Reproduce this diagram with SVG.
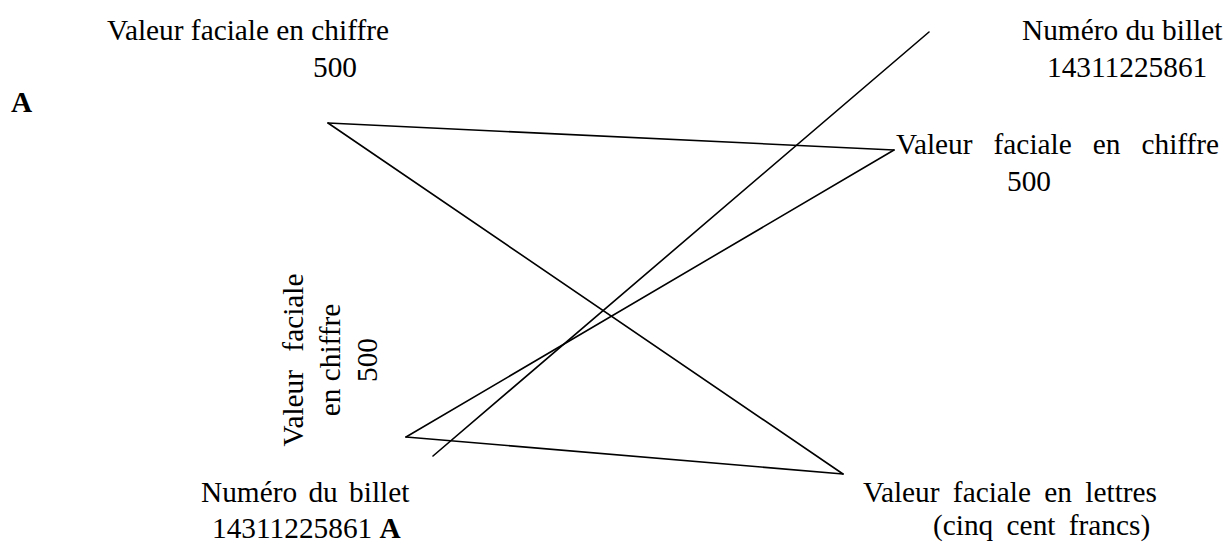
<svg xmlns="http://www.w3.org/2000/svg" width="1226" height="542" viewBox="0 0 1226 542">
<style>
text{font-family:"Liberation Serif","Times New Roman",serif;font-size:29.33px;fill:#000}
.b{font-weight:bold}
.c{stroke:#000;stroke-width:1.6;fill:none;stroke-linecap:round}
</style>
<rect width="1226" height="542" fill="#fff"/>
<g id="connectors">
<line class="c" x1="328" y1="123" x2="894" y2="150"/>
<line class="c" x1="894" y1="150" x2="406" y2="437"/>
<line class="c" x1="406" y1="437" x2="843" y2="474"/>
<line class="c" x1="328" y1="123" x2="843" y2="474"/>
<line class="c" x1="929" y1="32" x2="433" y2="456"/>
</g>
<g id="node-top-left">
<text x="107" y="40">Valeur faciale en chiffre</text>
<text x="335" y="77" text-anchor="middle">500</text>
<text class="b" x="11" y="112">A</text>
</g>
<g id="node-top-right">
<text x="1022" y="40">Numéro du billet</text>
<text x="1047" y="77">14311225861</text>
</g>
<g id="node-right">
<text x="896" y="154" style="word-spacing:13.7px">Valeur faciale en chiffre</text>
<text x="1007" y="191">500</text>
</g>
<g id="node-vertical" text-anchor="middle">
<text transform="translate(303,360) rotate(-90)" style="word-spacing:11px">Valeur faciale</text>
<text transform="translate(340,360) rotate(-90)">en chiffre</text>
<text transform="translate(377,360) rotate(-90)">500</text>
</g>
<g id="node-bottom-left">
<text x="201" y="502" style="word-spacing:4px">Numéro du billet</text>
<text x="212" y="538">14311225861 <tspan class="b">A</tspan></text>
</g>
<g id="node-bottom-right">
<text x="863" y="502" style="word-spacing:6px">Valeur faciale en lettres</text>
<text x="933" y="535" style="word-spacing:6px">(cinq cent francs)</text>
</g>
</svg>
